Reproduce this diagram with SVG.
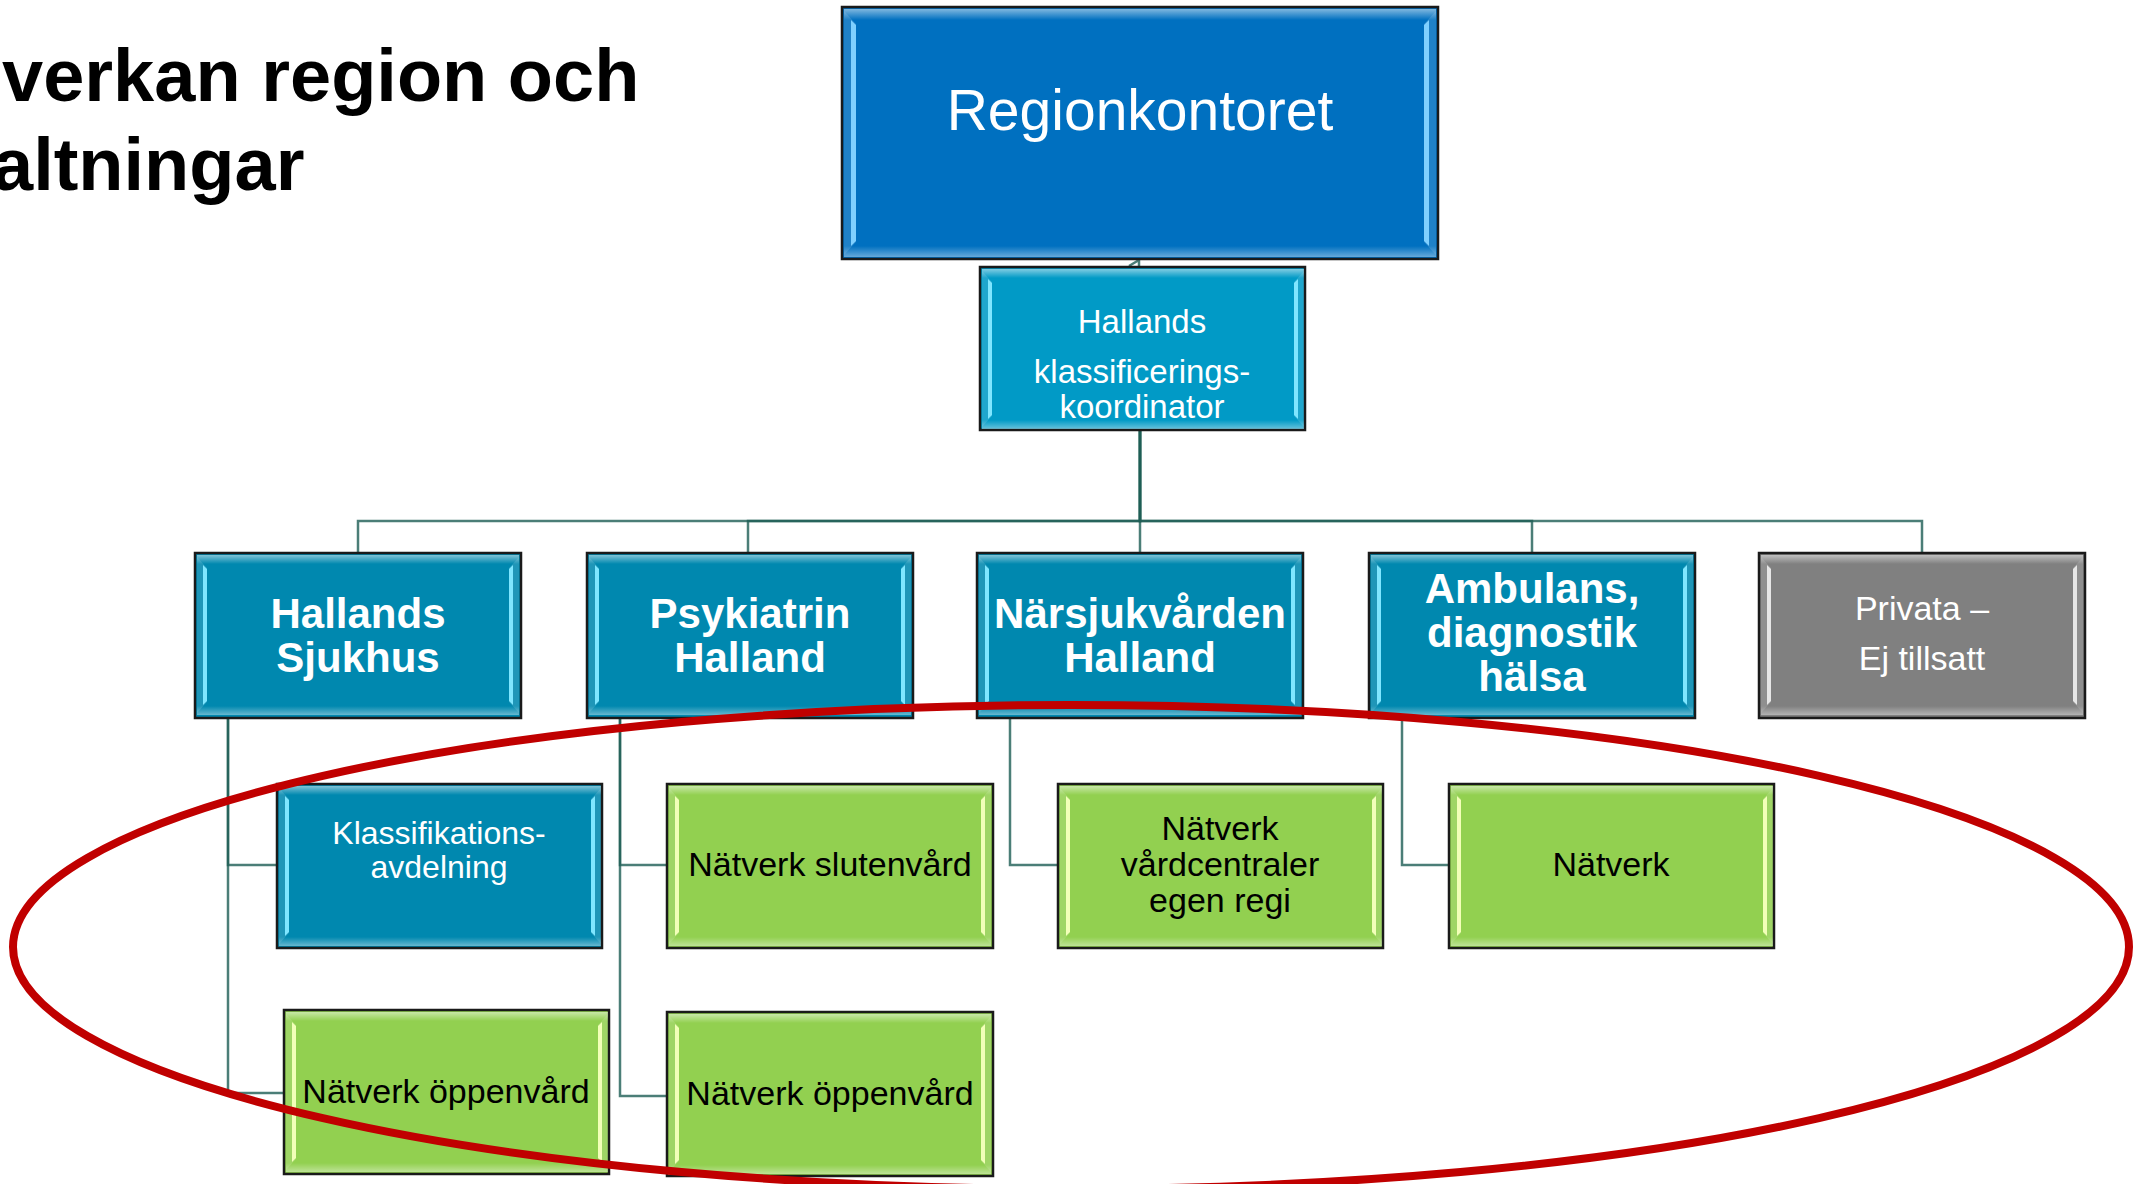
<svg xmlns="http://www.w3.org/2000/svg" xmlns:xlink="http://www.w3.org/1999/xlink" width="2136" height="1184" viewBox="0 0 2136 1184">
<style>
  .box{stroke:#1a1a1a;stroke-width:2.5}
  .c-region{fill:#0070C0}
  .c-koord{fill:#019AC6}
  .c-blue{fill:#0088AF}
  .c-gray{fill:#808080}
  .c-green{fill:#92D050}
  .t{font-family:"Liberation Sans",Arial,sans-serif;text-anchor:middle}
  .tw{fill:#ffffff}
  .tb{fill:#000000}
  .bold{font-weight:bold}
  .conn{fill:none;stroke:#1E5E55;stroke-width:2.5;stroke-opacity:0.8}
  .hl-blue{color:#7FE6FF}
  .hl-green{color:#F2FFB8}
  .hl-gray{color:#E6E6E6}
  .hl-region{color:#7FD0FF}
</style>
<defs>
  <linearGradient id="gTop" x1="0" y1="0" x2="0" y2="1">
    <stop offset="0" stop-color="#ffffff" stop-opacity="0.5"/>
    <stop offset="1" stop-color="#ffffff" stop-opacity="0"/>
  </linearGradient>
  <linearGradient id="gBot" x1="0" y1="0" x2="0" y2="1">
    <stop offset="0" stop-color="#ffffff" stop-opacity="0"/>
    <stop offset="1" stop-color="#ffffff" stop-opacity="0.4"/>
  </linearGradient>
  <g id="bev">
    <rect x="2" y="2" width="322" height="9" fill="url(#gTop)"/>
    <rect x="2" y="153" width="322" height="9" fill="url(#gBot)"/>
    <polygon points="2,4 12,15 12,149 2,160" fill="#ffffff" fill-opacity="0.12"/>
    <polygon points="324,4 314,15 314,149 324,160" fill="#ffffff" fill-opacity="0.12"/>
    <polygon points="8,12 12,16 12,148 8,152" fill="currentColor"/>
    <polygon points="318,12 314,16 314,148 318,152" fill="currentColor"/>
  </g>
  <g id="bevR">
    <rect x="2" y="2" width="592" height="11" fill="url(#gTop)"/>
    <rect x="2" y="239" width="592" height="11" fill="url(#gBot)"/>
    <polygon points="2,4 14,17 14,235 2,248" fill="#ffffff" fill-opacity="0.12"/>
    <polygon points="594,4 582,17 582,235 594,248" fill="#ffffff" fill-opacity="0.12"/>
    <polygon points="9,13 14,18 14,234 9,239" fill="currentColor"/>
    <polygon points="587,13 582,18 582,234 587,239" fill="currentColor"/>
  </g>
</defs>
<rect width="2136" height="1184" fill="#ffffff"/>

<g id="title">
  <text class="bold" x="2" y="101" font-family="Liberation Sans, Arial, sans-serif" font-size="74" fill="#000">verkan region och</text>
  <text class="bold" x="-8" y="190" font-family="Liberation Sans, Arial, sans-serif" font-size="74" fill="#000">altningar</text>
</g>

<g id="connectors">
  <path class="conn" d="M1139,259 V267 M1129,266 L1139,260"/>
  <path class="conn" d="M1140,430 V521 H358 V553"/>
  <path class="conn" d="M1140,430 V521 H748 V553"/>
  <path class="conn" d="M1140,430 V553"/>
  <path class="conn" d="M1140,430 V521 H1532 V553"/>
  <path class="conn" d="M1140,430 V521 H1922 V553"/>
  <path class="conn" d="M228,718 V865 H277"/>
  <path class="conn" d="M228,718 V1093 H284"/>
  <path class="conn" d="M620,718 V865 H667"/>
  <path class="conn" d="M620,718 V1096 H667"/>
  <path class="conn" d="M1010,718 V865 H1058"/>
  <path class="conn" d="M1402,718 V865 H1449"/>
</g>

<g id="regionkontoret">
  <rect class="box c-region" x="842" y="7" width="596" height="252"/>
  <use xlink:href="#bevR" href="#bevR" x="842" y="7" class="hl-region"/>
  <text class="t tw" x="1140" y="130" font-size="57">Regionkontoret</text>
</g>

<g id="koordinator">
  <rect class="box c-koord" x="980" y="267" width="325" height="163"/>
  <use xlink:href="#bev" href="#bev" x="980" y="267" class="hl-blue"/>
  <text class="t tw" x="1142" y="333" font-size="33">Hallands</text>
  <text class="t tw" x="1142" y="383" font-size="33">klassificerings-</text>
  <text class="t tw" x="1142" y="418" font-size="33">koordinator</text>
</g>

<g id="hallands-sjukhus">
  <rect class="box c-blue" x="195" y="553" width="326" height="165"/>
  <use xlink:href="#bev" href="#bev" x="195" y="553" class="hl-blue"/>
  <text class="t tw bold" x="358" y="628" font-size="42">Hallands</text>
  <text class="t tw bold" x="358" y="672" font-size="42">Sjukhus</text>
</g>

<g id="psykiatrin-halland">
  <rect class="box c-blue" x="587" y="553" width="326" height="165"/>
  <use xlink:href="#bev" href="#bev" x="587" y="553" class="hl-blue"/>
  <text class="t tw bold" x="750" y="628" font-size="42">Psykiatrin</text>
  <text class="t tw bold" x="750" y="672" font-size="42">Halland</text>
</g>

<g id="narsjukvarden-halland">
  <rect class="box c-blue" x="977" y="553" width="326" height="165"/>
  <use xlink:href="#bev" href="#bev" x="977" y="553" class="hl-blue"/>
  <text class="t tw bold" x="1140" y="628" font-size="42">Närsjukvården</text>
  <text class="t tw bold" x="1140" y="672" font-size="42">Halland</text>
</g>

<g id="ambulans">
  <rect class="box c-blue" x="1369" y="553" width="326" height="165"/>
  <use xlink:href="#bev" href="#bev" x="1369" y="553" class="hl-blue"/>
  <text class="t tw bold" x="1532" y="603" font-size="42">Ambulans,</text>
  <text class="t tw bold" x="1532" y="647" font-size="42">diagnostik</text>
  <text class="t tw bold" x="1532" y="691" font-size="42">hälsa</text>
</g>

<g id="privata">
  <rect class="box c-gray" x="1759" y="553" width="326" height="165"/>
  <use xlink:href="#bev" href="#bev" x="1759" y="553" class="hl-gray"/>
  <text class="t tw" x="1922" y="620" font-size="34">Privata –</text>
  <text class="t tw" x="1922" y="670" font-size="34">Ej tillsatt</text>
</g>

<g id="klassifikationsavdelning">
  <rect class="box c-blue" x="277" y="784" width="325" height="164"/>
  <use xlink:href="#bev" href="#bev" x="277" y="784" class="hl-blue"/>
  <text class="t tw" x="439" y="844" font-size="32">Klassifikations-</text>
  <text class="t tw" x="439" y="878" font-size="32">avdelning</text>
</g>

<g id="natverk-slutenvard">
  <rect class="box c-green" x="667" y="784" width="326" height="164"/>
  <use xlink:href="#bev" href="#bev" x="667" y="784" class="hl-green"/>
  <text class="t tb" x="830" y="876" font-size="34">Nätverk slutenvård</text>
</g>

<g id="natverk-vardcentraler">
  <rect class="box c-green" x="1058" y="784" width="325" height="164"/>
  <use xlink:href="#bev" href="#bev" x="1058" y="784" class="hl-green"/>
  <text class="t tb" x="1220" y="840" font-size="34">Nätverk</text>
  <text class="t tb" x="1220" y="876" font-size="34">vårdcentraler</text>
  <text class="t tb" x="1220" y="912" font-size="34">egen regi</text>
</g>

<g id="natverk">
  <rect class="box c-green" x="1449" y="784" width="325" height="164"/>
  <use xlink:href="#bev" href="#bev" x="1449" y="784" class="hl-green"/>
  <text class="t tb" x="1611" y="876" font-size="34">Nätverk</text>
</g>

<g id="natverk-oppenvard-1">
  <rect class="box c-green" x="284" y="1010" width="325" height="164"/>
  <use xlink:href="#bev" href="#bev" x="284" y="1010" class="hl-green"/>
  <text class="t tb" x="446" y="1103" font-size="34">Nätverk öppenvård</text>
</g>

<g id="natverk-oppenvard-2">
  <rect class="box c-green" x="667" y="1012" width="326" height="164"/>
  <use xlink:href="#bev" href="#bev" x="667" y="1012" class="hl-green"/>
  <text class="t tb" x="830" y="1105" font-size="34">Nätverk öppenvård</text>
</g>

<g id="highlight-ellipse">
  <ellipse cx="1071" cy="947" rx="1058" ry="242" fill="none" stroke="#C00000" stroke-width="8"/>
</g>
</svg>
